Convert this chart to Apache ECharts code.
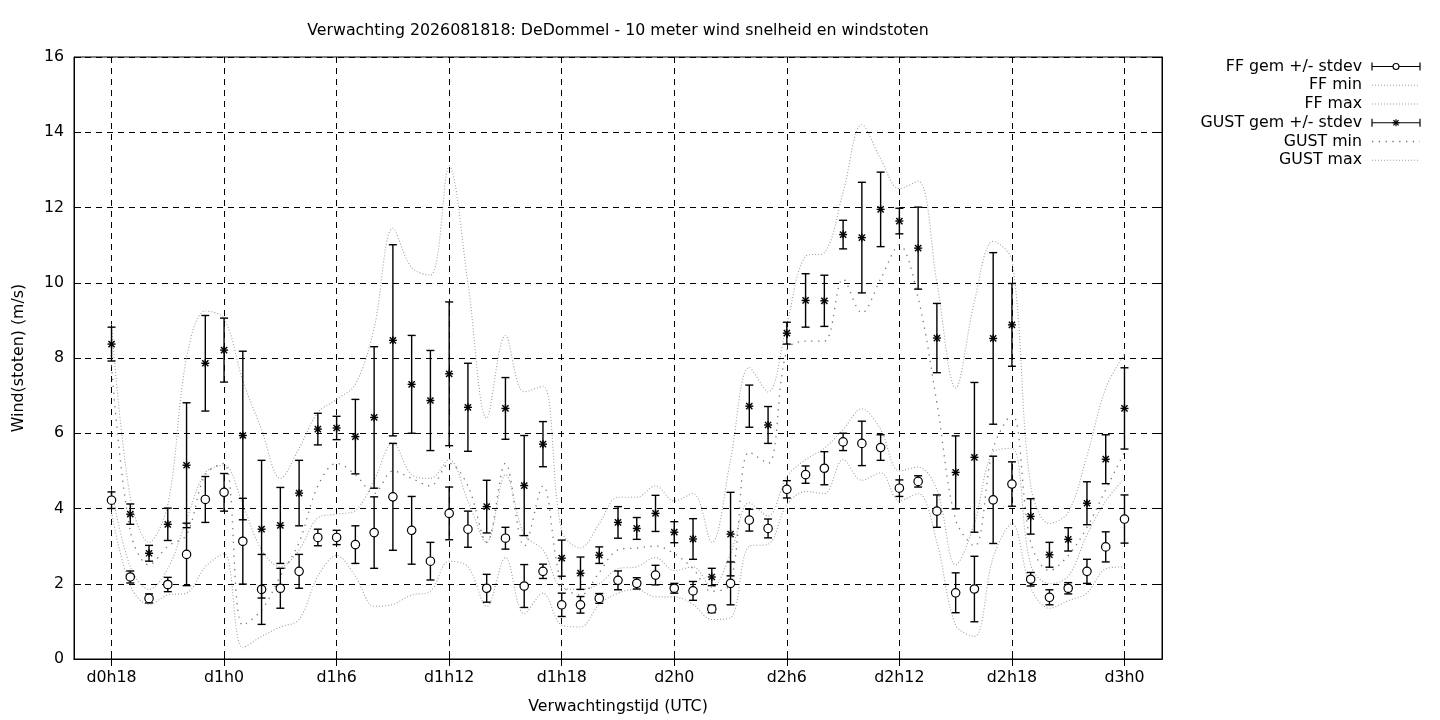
<!DOCTYPE html>
<html><head><meta charset="utf-8">
<script src="https://cdn.jsdelivr.net/npm/echarts@6/dist/echarts.min.js"></script>
<style>html,body{margin:0;padding:0;background:#fff}#c{width:1440px;height:720px}</style>
</head><body><div id="c"></div>
<script>
// x axis runs in forecast hours from d0h16 to d3h2; data every hour from d0h18 to d3h0
const axisStartHour = 16;
const axisEndHour = 74;
const firstDataHour = 18;
const tickLabels = ['d0h18','d1h0','d1h6','d1h12','d1h18','d2h0','d2h6','d2h12','d2h18','d3h0'];
const yTicks = [0, 2, 4, 6, 8, 10, 12, 14, 16];

const ffMean = [4.22,2.18,1.61,1.98,2.78,4.24,4.43,3.13,1.85,1.88,2.33,3.23,3.23,3.04,3.36,4.31,3.42,2.60,3.87,3.45,1.88,3.21,1.94,2.33,1.44,1.44,1.61,2.09,2.01,2.23,1.88,1.81,1.33,2.01,3.69,3.47,4.51,4.90,5.07,5.77,5.73,5.62,4.54,4.72,3.93,1.76,1.86,4.23,4.65,2.12,1.64,1.88,2.33,2.98,3.72];
const ffStd  = [0.22,0.16,0.12,0.19,0.83,0.61,0.50,1.14,0.93,0.53,0.45,0.22,0.19,0.50,0.95,1.42,0.90,0.50,0.70,0.48,0.37,0.29,0.57,0.19,0.31,0.22,0.13,0.25,0.15,0.26,0.13,0.25,0.10,0.57,0.29,0.25,0.23,0.23,0.44,0.23,0.59,0.34,0.22,0.15,0.43,0.53,0.87,1.16,0.59,0.18,0.20,0.15,0.32,0.40,0.64];
const ffMin  = [3.9,1.95,1.45,1.7,1.75,2.45,2.8,0.3,0.6,0.85,1.05,2.2,2.75,2.2,1.4,1.45,1.7,1.8,2.6,2.45,1.4,2.7,1.2,1.75,0.9,0.85,1.45,1.75,1.85,1.65,1.65,1.45,1.05,1.1,3.0,3.05,4.1,4.45,4.4,5.3,4.75,4.95,4.2,4.4,3.1,0.9,0.6,2.7,3.6,1.9,1.35,1.55,1.75,2.4,2.45];
const ffMax  = [4.5,2.45,1.85,2.4,3.7,4.95,5.15,4.1,2.9,2.45,2.9,3.75,3.85,3.95,4.75,5.75,4.9,4.8,5.3,4.2,3.1,4.9,3.3,2.9,1.9,1.85,2.0,2.4,2.45,2.7,2.35,2.45,1.9,2.8,4.15,3.8,4.85,5.3,5.6,6.1,6.65,6.1,5.0,5.1,4.5,2.5,3.6,5.5,5.6,2.5,2.0,2.2,3.3,4.2,4.8];
const gustMean = [8.37,3.85,2.81,3.58,5.15,7.86,8.21,5.94,3.45,3.55,4.41,6.11,6.14,5.91,6.42,8.47,7.30,6.87,7.58,6.69,4.05,6.66,4.61,5.71,2.68,2.28,2.76,3.63,3.47,3.87,3.37,3.19,2.18,3.32,6.72,6.22,8.66,9.53,9.52,11.28,11.20,11.95,11.64,10.92,8.53,4.96,5.36,8.52,8.88,3.79,2.77,3.18,4.14,5.31,6.66];
const gustStd  = [0.45,0.27,0.21,0.43,1.66,1.27,0.85,2.24,1.83,1.01,0.87,0.42,0.31,0.99,1.88,2.54,1.30,1.33,1.91,1.17,0.70,0.82,1.33,0.60,0.48,0.43,0.22,0.42,0.29,0.48,0.28,0.54,0.23,1.11,0.56,0.49,0.29,0.71,0.68,0.38,1.47,0.99,0.34,1.09,0.92,0.97,1.99,2.28,1.10,0.47,0.33,0.31,0.57,0.65,1.08];
const gustMin  = [7.8,3.4,2.5,3.0,3.3,4.9,5.2,0.9,1.3,2.2,3.1,4.6,5.2,4.9,4.4,5.0,4.8,4.6,5.2,4.6,3.1,5.2,3.0,4.6,2.0,1.7,2.3,2.9,2.95,3.0,2.8,2.4,1.8,2.0,5.5,5.2,8.2,8.45,8.45,10.1,9.2,10.1,11.0,9.6,6.8,3.7,3.0,5.6,6.5,3.1,2.35,2.75,3.5,4.5,5.5];
const gustMax  = [8.9,4.3,3.1,4.1,8.0,9.25,9.05,7.4,6.1,4.8,5.6,6.55,6.9,7.3,8.8,11.45,10.4,10.2,13.1,10.0,6.4,8.6,7.1,7.25,3.4,2.95,3.6,4.3,4.3,4.6,4.2,4.4,3.1,5.3,7.75,7.1,8.9,10.7,10.8,12.4,14.2,13.3,12.5,12.7,10.0,7.2,9.5,11.1,10.6,4.6,3.6,3.9,5.4,7.2,8.1];

const FONT = 'DejaVu Sans';
const FS = 15.8;

const categories = [];
for (let h = axisStartHour; h <= axisEndHour; h++) {
  categories.push('d' + Math.floor(h / 24) + 'h' + (h % 24));
}
const offset = firstDataHour - axisStartHour;
const showTick = function (index, value) { return tickLabels.indexOf(categories[index]) >= 0; };

function pairs(arr) { return arr.map(function (v, i) { return [i + offset, v]; }); }
function triples(mean, sd) { return mean.map(function (m, i) { return [i + offset, m, sd[i]]; }); }

function errorBar(marker) {
  return function (params, api) {
    const idx = api.value(0), m = api.value(1), s = api.value(2);
    const c = api.coord([idx, m]);
    const t = api.coord([idx, m + s]);
    const b = api.coord([idx, m - s]);
    const cap = 4;
    const st = { stroke: '#000', lineWidth: 1.4 };
    const ch = [
      { type: 'line', shape: { x1: c[0], y1: t[1], x2: c[0], y2: b[1] }, style: st },
      { type: 'line', shape: { x1: c[0] - cap, y1: t[1], x2: c[0] + cap, y2: t[1] }, style: st },
      { type: 'line', shape: { x1: c[0] - cap, y1: b[1], x2: c[0] + cap, y2: b[1] }, style: st }
    ];
    if (marker === 'circle') {
      ch.push({ type: 'circle', shape: { cx: c[0], cy: c[1], r: 4.2 }, style: { fill: '#fff', stroke: '#000', lineWidth: 1.2 } });
    } else {
      const r = 4, d = 3.1;
      ch.push({ type: 'line', shape: { x1: c[0] - r, y1: c[1], x2: c[0] + r, y2: c[1] }, style: st });
      ch.push({ type: 'line', shape: { x1: c[0], y1: c[1] - r, x2: c[0], y2: c[1] + r }, style: st });
      ch.push({ type: 'line', shape: { x1: c[0] - d, y1: c[1] - d, x2: c[0] + d, y2: c[1] + d }, style: st });
      ch.push({ type: 'line', shape: { x1: c[0] - d, y1: c[1] + d, x2: c[0] + d, y2: c[1] - d }, style: st });
    }
    return { type: 'group', children: ch };
  };
}

const fineDot = { color: '#a0a0a0', width: 1.1, type: [1, 2] };
const sparseDot = { color: '#767676', width: 1.3, type: [1.3, 5.5] };

function lineSeries(name, arr, style) {
  return { name: name, type: 'line', data: pairs(arr), symbol: 'none', smooth: 0.35,
    lineStyle: style, z: 2, silent: true };
}

// legend drawn with graphic elements
const legendNames = ['FF gem +/- stdev', 'FF min', 'FF max', 'GUST gem +/- stdev', 'GUST min', 'GUST max'];
const legendY0 = 66.5, legendDy = 18.75, legendTextX = 1362, iconX1 = 1372, iconX2 = 1420;
const graphics = [];
legendNames.forEach(function (n, i) {
  const y = legendY0 + i * legendDy;
  graphics.push({ type: 'text', x: legendTextX, y: y, style: { text: n, align: 'right', verticalAlign: 'middle', fontSize: FS, fontFamily: FONT, fill: '#000' } });
  if (i === 0 || i === 3) {
    const st = { stroke: '#000', lineWidth: 1.2 };
    graphics.push({ type: 'line', shape: { x1: iconX1, y1: y, x2: iconX2, y2: y }, style: st });
    graphics.push({ type: 'line', shape: { x1: iconX1, y1: y - 4, x2: iconX1, y2: y + 4 }, style: st });
    graphics.push({ type: 'line', shape: { x1: iconX2, y1: y - 4, x2: iconX2, y2: y + 4 }, style: st });
    const cx = (iconX1 + iconX2) / 2;
    if (i === 0) {
      graphics.push({ type: 'circle', shape: { cx: cx, cy: y, r: 3 }, style: { fill: '#fff', stroke: '#000', lineWidth: 1.1 } });
    } else {
      graphics.push({ type: 'line', shape: { x1: cx - 3.5, y1: y, x2: cx + 3.5, y2: y }, style: st });
      graphics.push({ type: 'line', shape: { x1: cx, y1: y - 3.5, x2: cx, y2: y + 3.5 }, style: st });
      graphics.push({ type: 'line', shape: { x1: cx - 2.6, y1: y - 2.6, x2: cx + 2.6, y2: y + 2.6 }, style: st });
      graphics.push({ type: 'line', shape: { x1: cx - 2.6, y1: y + 2.6, x2: cx + 2.6, y2: y - 2.6 }, style: st });
    }
  } else {
    const s = (i === 4) ? sparseDot : fineDot;
    graphics.push({ type: 'line', shape: { x1: iconX1, y1: y, x2: iconX2, y2: y }, style: { stroke: s.color, lineWidth: s.width, lineDash: s.type } });
  }
});

const gridDash = { color: '#000', width: 1, type: [6, 5] };
const chart = echarts.init(document.getElementById('c'), null, { renderer: 'canvas' });
chart.setOption({
  animation: false,
  backgroundColor: '#fff',
  textStyle: { fontFamily: FONT },
  title: {
    text: 'Verwachting 2026081818: DeDommel - 10 meter wind snelheid en windstoten',
    left: 613, top: 18, textAlign: 'center',
    textStyle: { fontSize: FS, fontWeight: 'normal', fontFamily: FONT, color: '#000' }
  },
  grid: { left: 74, top: 57, width: 1088, height: 602, show: true, borderColor: '#000', borderWidth: 1, containLabel: false, outerBoundsMode: 'none' },
  xAxis: [{
    type: 'category', data: categories, boundaryGap: false,
    name: 'Verwachtingstijd (UTC)', nameLocation: 'middle', nameGap: 40,
    nameTextStyle: { fontSize: FS, fontFamily: FONT, color: '#000' },
    axisLine: { show: true, lineStyle: { color: '#000', width: 1 } },
    axisTick: { show: true, inside: true, length: 7, interval: showTick, lineStyle: { color: '#000' } },
    axisLabel: { show: true, interval: showTick, margin: 11, fontSize: FS, fontFamily: FONT, color: '#000', hideOverlap: false },
    splitLine: { show: true, interval: showTick, lineStyle: gridDash }
  }, {
    type: 'category', data: categories, boundaryGap: false, position: 'top',
    axisLine: { show: true, lineStyle: { color: '#000', width: 1 } },
    axisTick: { show: true, inside: true, length: 7, interval: showTick, lineStyle: { color: '#000' } },
    axisLabel: { show: false }, splitLine: { show: false }
  }],
  yAxis: [{
    type: 'value', min: yTicks[0], max: yTicks[yTicks.length - 1], interval: yTicks[1] - yTicks[0],
    name: 'Wind(stoten) (m/s)', nameLocation: 'middle', nameGap: 47,
    nameTextStyle: { fontSize: FS, fontFamily: FONT, color: '#000' },
    axisLine: { show: true, lineStyle: { color: '#000', width: 1 } },
    axisTick: { show: true, inside: true, length: 7, lineStyle: { color: '#000' } },
    axisLabel: { show: true, margin: 10, fontSize: FS, fontFamily: FONT, color: '#000' },
    splitLine: { show: true, lineStyle: gridDash }
  }, {
    type: 'value', min: yTicks[0], max: yTicks[yTicks.length - 1], interval: yTicks[1] - yTicks[0], position: 'right',
    axisLine: { show: true, lineStyle: { color: '#000', width: 1 } },
    axisTick: { show: true, inside: true, length: 7, lineStyle: { color: '#000' } },
    axisLabel: { show: false }, splitLine: { show: false }
  }],
  series: [
    lineSeries('FF min', ffMin, fineDot),
    lineSeries('FF max', ffMax, fineDot),
    lineSeries('GUST min', gustMin, sparseDot),
    lineSeries('GUST max', gustMax, fineDot),
    { name: 'FF gem +/- stdev', type: 'custom', renderItem: errorBar('circle'), data: triples(ffMean, ffStd), encode: { x: 0, y: 1 }, z: 5, silent: true },
    { name: 'GUST gem +/- stdev', type: 'custom', renderItem: errorBar('star'), data: triples(gustMean, gustStd), encode: { x: 0, y: 1 }, z: 5, silent: true }
  ],
  graphic: graphics
});
</script>
</body></html>
